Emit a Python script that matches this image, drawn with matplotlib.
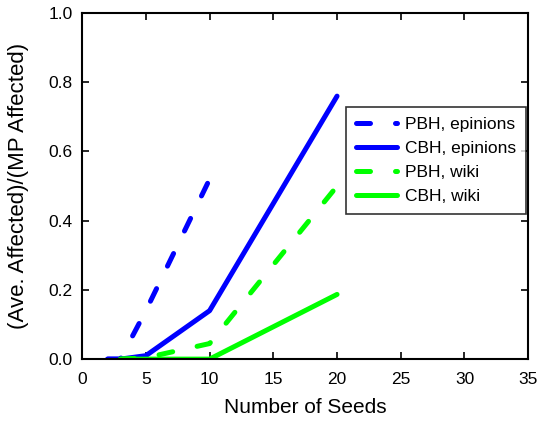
import matplotlib
matplotlib.use("Agg")
import matplotlib.pyplot as plt

plt.rcParams['font.family'] = ['Liberation Sans', 'DejaVu Sans']

# seeds vs ratio of average affected to max-possible affected
pbh_epinions_x = [2, 3, 5, 10]
pbh_epinions_y = [0.0, 0.0, 0.14, 0.52]
cbh_epinions_x = [2, 3, 5, 10, 20]
cbh_epinions_y = [0.0, 0.0, 0.01, 0.14, 0.76]
pbh_wiki_x = [3, 5, 10, 20]
pbh_wiki_y = [0.0, 0.004, 0.045, 0.50]
cbh_wiki_x = [3, 5, 10, 20]
cbh_wiki_y = [0.0, 0.0, 0.0, 0.187]

fig = plt.figure(figsize=(5.44, 4.22), dpi=100)
ax = fig.add_axes([0.151, 0.149, 0.820, 0.820])

lw = 3.6
dash = (2.8, 5.0)
ax.plot(pbh_epinions_x, pbh_epinions_y, color='#0000ff', lw=lw, dashes=dash,
        dash_capstyle='round', label='PBH, epinions')
ax.plot(cbh_epinions_x, cbh_epinions_y, color='#0000ff', lw=lw,
        solid_capstyle='round', label='CBH, epinions')
ax.plot(pbh_wiki_x, pbh_wiki_y, color='#00ff00', lw=lw, dashes=dash,
        dash_capstyle='round', label='PBH, wiki')
ax.plot(cbh_wiki_x, cbh_wiki_y, color='#00ff00', lw=lw,
        solid_capstyle='round', label='CBH, wiki')

ax.set_xlim(0, 35)
ax.set_ylim(0, 1.0)
ax.set_xticks(range(0, 36, 5))
ax.set_yticks([0.0, 0.2, 0.4, 0.6, 0.8, 1.0])
ax.set_yticklabels(['0.0', '0.2', '0.4', '0.6', '0.8', '1.0'])
ax.tick_params(direction='in', length=5, width=1.2, labelsize=12.5, top=True, right=True,
               labeltop=False, labelright=False)
ax.tick_params(axis='x', pad=9)
ax.tick_params(axis='y', pad=7)
for s in ax.spines.values():
    s.set_linewidth(1.5)

ax.set_xlabel('Number of Seeds', fontsize=15, labelpad=8)
ax.set_ylabel('(Ave. Affected)/(MP Affected)', fontsize=16, labelpad=14)

leg = ax.legend(loc='upper right', bbox_to_anchor=(0.996, 0.73), fontsize=12.5,
                frameon=True, fancybox=False, edgecolor='black',
                handlelength=2.35, handletextpad=0.45, borderpad=0.6, labelspacing=0.5,
                borderaxespad=0.0)
leg.get_frame().set_linewidth(1.2)

fig.savefig('out.png', dpi=100)
